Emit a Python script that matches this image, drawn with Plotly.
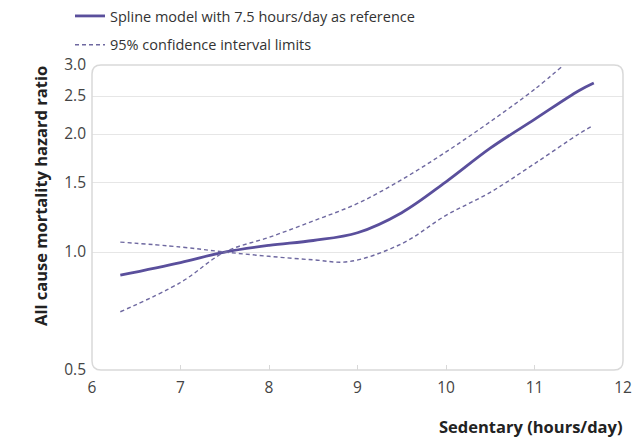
import plotly.graph_objects as go

# Data (hazard ratio vs sedentary hours/day)
hours = [6.32, 7.0, 7.5, 8.0, 8.5, 9.0, 9.5, 10.0, 10.5, 11.0, 11.5, 11.67]
hr_spline = [0.873, 0.94, 1.0, 1.04, 1.07, 1.12, 1.26, 1.51, 1.84, 2.18, 2.58, 2.70]

ci_a_hours = [6.32, 7.0, 7.5, 8.0, 8.5, 8.9, 9.5, 10.0, 10.5, 11.0, 11.5, 11.66]
ci_a = [1.06, 1.03, 1.0, 0.975, 0.955, 0.945, 1.05, 1.24, 1.42, 1.68, 2.0, 2.10]

ci_b_hours = [6.32, 7.0, 7.5, 8.0, 8.5, 9.0, 9.5, 10.0, 10.5, 11.0, 11.33]
ci_b = [0.704, 0.836, 1.0, 1.09, 1.20, 1.33, 1.53, 1.80, 2.15, 2.60, 3.0]

x_ticks = [6, 7, 8, 9, 10, 11, 12]
y_ticks = [0.5, 1.0, 1.5, 2.0, 2.5, 3.0]
y_tick_text = ["0.5", "1.0", "1.5", "2.0", "2.5", "3.0"]

main_color = "#5a4f9c"
ci_color = "#6e68a0"
font_family = "Open Sans, sans-serif"

fig = go.Figure()
fig.add_trace(go.Scatter(
    x=hours, y=hr_spline, mode="lines", line_shape="spline",
    line=dict(color=main_color, width=2.8),
    name="Spline model with 7.5 hours/day as reference",
    legendgroup="a",
))
fig.add_trace(go.Scatter(
    x=ci_a_hours, y=ci_a, mode="lines", line_shape="spline",
    line=dict(color=ci_color, width=1.4, dash="4px,3px"),
    name="95% confidence interval limits",
    legendgroup="b",
))
fig.add_trace(go.Scatter(
    x=ci_b_hours, y=ci_b, mode="lines", line_shape="spline",
    line=dict(color=ci_color, width=1.4, dash="4px,3px"),
    name="95% confidence interval limits",
    legendgroup="b", showlegend=False,
))

# rounded frame around plot area
W, H = 636, 438
ml, mr, mt, mb = 92, 13, 65, 68
pw, ph = W - ml - mr, H - mt - mb
rx, ry = 9 / pw, 9 / ph
frame = (f"M {rx},0 L {1-rx},0 Q 1,0 1,{ry} L 1,{1-ry} Q 1,1 {1-rx},1 "
         f"L {rx},1 Q 0,1 0,{1-ry} L 0,{ry} Q 0,0 {rx},0 Z")
fig.add_shape(type="path", path=frame, xref="paper", yref="paper",
              line=dict(color="#d9d9d9", width=1.5), layer="above")

fig.add_annotation(text="<b>Sedentary (hours/day)</b>", xref="paper", yref="paper",
                   x=(437 - ml) / pw, y=-(426 - (H - mb)) / ph,
                   xanchor="left", yanchor="middle", showarrow=False,
                   font=dict(family=font_family, size=16.5, color="#222"))
fig.add_annotation(text="<b>All cause mortality hazard ratio</b>", xref="paper", yref="paper",
                   x=(40 - ml) / pw, y=(H - mb - 196) / ph, textangle=-90,
                   xanchor="center", yanchor="middle", showarrow=False,
                   font=dict(family=font_family, size=16.5, color="#222"))

fig.update_layout(
    width=W, height=H,
    margin=dict(l=ml, r=mr, t=mt, b=mb, autoexpand=False),
    paper_bgcolor="white", plot_bgcolor="white",
    font=dict(family=font_family, color="#333"),
    showlegend=True,
    legend=dict(x=(70 - ml) / pw, y=1 + mt / ph, xanchor="left", yanchor="top",
                font=dict(size=14.5, color="#333"), tracegroupgap=7,
                bgcolor="rgba(0,0,0,0)", itemwidth=30),
    xaxis=dict(range=[6, 12], tickvals=x_ticks, showgrid=False, zeroline=False,
               showline=False, ticks="inside", ticklen=5, tickcolor="#d8d8d8",
               tickfont=dict(size=15.5, color="#444"), ticklabelstandoff=6),
    yaxis=dict(type="log", range=[-0.30103, 0.4771213], tickvals=y_ticks,
               ticktext=y_tick_text, showgrid=True, gridcolor="#e6e6e6",
               gridwidth=1.2, zeroline=False, showline=False, ticks="",
               tickfont=dict(size=15.5, color="#444"), ticklabelstandoff=5),
)

fig.write_html("out.html", config={"displayModeBar": False},
               post_script="document.body.style.margin='0';")
